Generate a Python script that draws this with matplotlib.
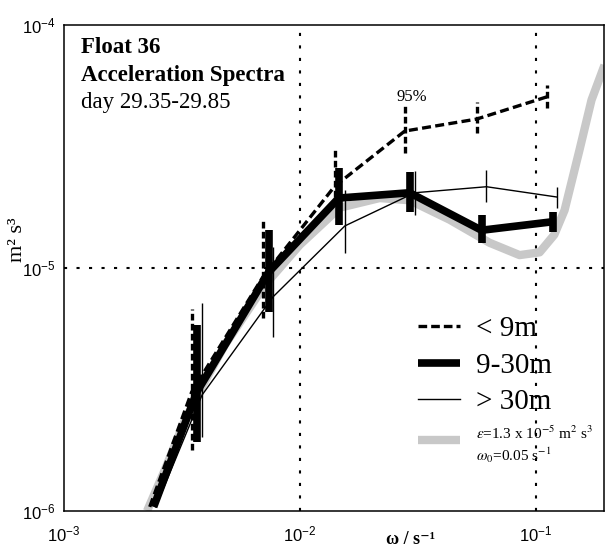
import matplotlib
matplotlib.use("Agg")
import matplotlib.pyplot as plt
from matplotlib.lines import Line2D

# ---------------- data ----------------
# < 9 m (dashed)
freq_lt9 = [0.00231, 0.00348, 0.00697, 0.01406, 0.02786, 0.0562, 0.1115]
spec_lt9 = [1.04e-6, 3.09e-6, 9.18e-6, 2.17e-5, 3.66e-5, 4.10e-5, 5.06e-5]
lo_lt9 = [1.78e-6, 6.22e-6, 1.96e-5, 2.97e-5, 3.59e-5, 4.55e-5]
hi_lt9 = [6.78e-6, 1.56e-5, 3.06e-5, 4.64e-5, 4.82e-5, 5.66e-5]

# 9-30 m (thick)
freq_mid = [0.00240, 0.00366, 0.00739, 0.01462, 0.02923, 0.0590, 0.1180]
spec_mid = [1.04e-6, 3.09e-6, 9.63e-6, 1.94e-5, 2.04e-5, 1.43e-5, 1.55e-5]
lo_mid = [1.92e-6, 6.59e-6, 1.50e-5, 1.70e-5, 1.27e-5, 1.41e-5]
hi_mid = [5.83e-6, 1.43e-5, 2.58e-5, 2.48e-5, 1.65e-5, 1.70e-5]

# > 30 m (thin)
freq_gt30 = [0.00245, 0.00385, 0.00769, 0.01553, 0.0307, 0.0619, 0.1227]
spec_gt30 = [1.04e-6, 3.00e-6, 7.60e-6, 1.49e-5, 2.04e-5, 2.16e-5, 1.96e-5]
lo_gt30 = [2.02e-6, 5.20e-6, 1.15e-5, 1.65e-5, 1.87e-5, 1.77e-5]
hi_gt30 = [7.18e-6, 1.22e-5, 2.09e-5, 2.51e-5, 2.53e-5, 2.16e-5]

# model spectrum (grey band)
freq_model = [0.00225, 0.00268, 0.00326, 0.00388, 0.00481, 0.00711, 0.0100,
              0.01476, 0.0218, 0.0292, 0.0432, 0.0638, 0.0855, 0.104,
              0.120, 0.1327, 0.1535, 0.1726, 0.196]
spec_model = [1.0e-6, 1.48e-6, 2.37e-6, 3.30e-6, 4.82e-6, 8.51e-6, 1.245e-5,
              1.77e-5, 1.94e-5, 1.90e-5, 1.58e-5, 1.27e-5, 1.13e-5, 1.16e-5,
              1.37e-5, 1.73e-5, 3.06e-5, 4.91e-5, 6.84e-5]

labels = ["< 9m", "9-30m", "> 30m",
          "$\\epsilon$=1.3 x 10$^{-5}$ m$^2$ s$^3$\n$\\omega_0$=0.05 s$^{-1}$"]
xticks = [1e-3, 1e-2, 1e-1]
yticks = [1e-6, 1e-5, 1e-4]

# ---------------- style ----------------
plt.rcParams['font.family'] = ['Liberation Serif', 'DejaVu Serif']
plt.rcParams['mathtext.fontset'] = 'stix'

W, H = 605, 550
fig = plt.figure(figsize=(W / 100, H / 100), dpi=100)
ax = fig.add_axes([64 / W, 1 - 511 / H, 540 / W, 486 / H])
ax.set_xscale('log')
ax.set_yscale('log')
ax.set_xlim(1e-3, 0.195)
ax.set_ylim(1e-6, 1e-4)

grey = '#c8c8c8'
ax.plot(freq_model, spec_model, color=grey, lw=6, solid_capstyle='butt', zorder=1)

# reference dotted lines
for xv in xticks[1:]:
    ax.axvline(xv, color='black', lw=1.5, ls=(0, (1.5, 4.5)), zorder=0.5)
ax.axhline(yticks[1], color='black', lw=1.5, ls=(0, (1.5, 4.5)), zorder=0.5)

# thin
ax.plot(freq_gt30, spec_gt30, color='black', lw=1.0, zorder=2)
ax.vlines(freq_gt30[1:], lo_gt30, hi_gt30, color='black', lw=1.0, zorder=2)
# thick
ax.plot(freq_mid, spec_mid, color='black', lw=5.5, solid_capstyle='butt',
        solid_joinstyle='miter', zorder=3)
ax.vlines(freq_mid[1:], lo_mid, hi_mid, color='black', lw=5.5, zorder=3)
# dashed
ax.plot(freq_lt9, spec_lt9, color='black', lw=2.4, ls=(0, (2.7, 1.3)), zorder=4)
ax.vlines(freq_lt9[1:], lo_lt9, hi_lt9, color='black', lw=2.4,
          linestyles=[(0, (2.0, 1.0))], zorder=4)

ax.annotate("95%", xy=(freq_lt9[4], hi_lt9[3]), xytext=(5, 1),
            textcoords='offset points', ha='center', va='bottom', fontsize=12)

# ticks
ax.set_xticks(xticks)
ax.set_yticks(yticks)
ax.minorticks_off()
ax.tick_params(which='both', length=0, labelsize=12, labelfontfamily='Liberation Sans')
ax.tick_params(axis='x', pad=10)
ax.tick_params(axis='y', pad=6)
for s in ax.spines.values():
    s.set_linewidth(1.1)

# axis labels
fig.text(411 / W, 1 - 544 / H, "ω / s⁻¹", ha='center', va='baseline',
         fontsize=13, fontweight='bold', family=['Liberation Serif', 'DejaVu Serif'])
ax.set_ylabel("m² s³", fontsize=16, va='center', ha='center')
ax.yaxis.set_label_coords(-(64 - 18) / 540, (511 - 240) / 486)

# title block
fig.text(81 / W, 1 - 53 / H, "Float 36", fontsize=16.5, fontweight='bold', va='baseline')
fig.text(81 / W, 1 - 81 / H, "Acceleration Spectra", fontsize=16.5, fontweight='bold',
         va='baseline')
fig.text(81 / W, 1 - 108 / H, "day 29.35-29.85", fontsize=16.5, va='baseline')

# legend
handles = [Line2D([], [], color='black', lw=2.4, ls=(0, (2.6, 1.2))),
           Line2D([], [], color='black', lw=5.5, solid_capstyle='butt'),
           Line2D([], [], color='black', lw=1.0),
           Line2D([], [], color=grey, lw=6, solid_capstyle='butt')]
leg = ax.legend(handles, labels, loc='upper left',
                bbox_to_anchor=(418 / W, 1 - 316 / H), bbox_transform=fig.transFigure,
                frameon=False, borderpad=0, borderaxespad=0, fontsize=21,
                handlelength=1.45, handletextpad=0.55, labelspacing=0.34)
leg.get_texts()[3].set_fontsize(11)

fig.savefig("out.png", dpi=100)
